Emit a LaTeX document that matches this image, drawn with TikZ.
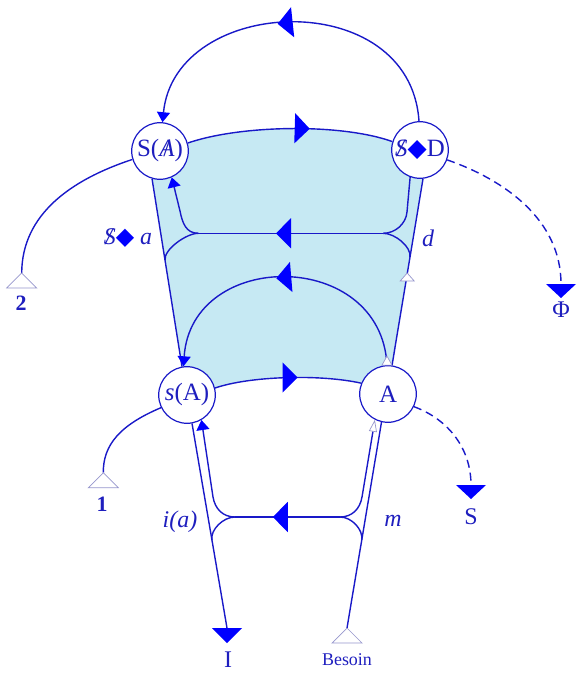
\documentclass[tikz,border=0pt]{standalone}
\usepackage{fontspec}
\setmainfont{Liberation Serif}
\newfontfamily\symfont{DejaVu Sans}
\usetikzlibrary{arrows.meta,decorations.markings,backgrounds}
\definecolor{lineblue}{RGB}{25,25,200}
\definecolor{arrowblue}{RGB}{0,0,255}
\definecolor{textblue}{RGB}{30,30,190}
\definecolor{fillblue}{RGB}{198,233,243}
\definecolor{hollowgray}{RGB}{150,150,205}
\newcommand{\barS}{\ooalign{\textit{S}\cr\hidewidth\textit{/}\hidewidth\cr}}
\newcommand{\barA}{\ooalign{\textit{A}\cr\hidewidth/\hidewidth\cr}}
\newcommand{\dmd}{{\symfont\color{arrowblue}◆}}
\begin{document}
\begin{tikzpicture}[x=1bp,y=-1bp,
  every node/.style={text=textblue},
  circ/.style={circle, draw=lineblue, line width=1.2bp, fill=white, minimum size=56.6bp, inner sep=0pt, font=\fontsize{25}{28}\selectfont},
  ln/.style={draw=lineblue, line width=1.4bp},
  dsh/.style={ln, dash pattern=on 8bp off 5bp},
  endarr/.style={-{Triangle[length=10bp,width=13bp,color=arrowblue]}},
  midarr/.style={postaction={decorate}, decoration={markings, mark=at position #1 with {\arrow{Triangle[length=15bp,width=30bp,color=arrowblue]}}}},
  hollow/.style={draw=hollowgray, fill=white, line width=0.7bp},
  solidtri/.style={fill=arrowblue},
  lab/.style={font=\fontsize{24}{28}\selectfont},
  numlab/.style={font=\fontsize{22}{26}\selectfont\bfseries},
]
\useasboundingbox (0,0) rectangle (583,682);

% main nodes
\node[circ] (SA) at (160,151) {S(\barA)};
\node[circ] (SD) at (420,150) {\barS\dmd D};
\node[circ] (sA) at (187,395) {\textit{s}(A)};
\node[circ] (A) at (388,394) {A};

% shaded region
\begin{scope}[on background layer]
\fill[fillblue] (SA.254) -- (sA.100) -- (sA.14) .. controls (250,376) and (320,374) .. (A.158) -- (A.82) -- (SD.276) -- (SD.163.5) .. controls (340,123) and (240,125) .. (SA.16) -- cycle;
\end{scope}

% boundaries
\draw[ln, midarr=0.595] (SA.16) .. controls (240,125) and (340,123) .. (SD.163.5);
\draw[ln, midarr=0.566] (sA.14) .. controls (250,376) and (320,374) .. (A.158);
\draw[ln] (SA.254) -- (sA.100);
\draw[ln] (A.82) -- (SD.276);

% top big arc
\draw[ln, endarr, midarr=0.54] (SD.92) .. controls (410,-15) and (175,-5) .. (SA.85);

% inner arc
\draw[ln, endarr, midarr=0.53] (A.92) .. controls (381,248.5) and (191.5,248.5) .. (sA.97);
\draw[hollow] (A.92) ++(-5,0) -- ++(10,0) -- ++(-5,-9) -- cycle;

% upper horizontal structure
\coordinate (HRu) at (383.3,233.3);
\coordinate (HLu) at (198.3,233.3);
\draw[ln, midarr=0.58] (HRu) -- (HLu);
\draw[ln, endarr] (HLu) .. controls (186,233.3) and (182.4,223) .. (180,211) -- (SA.294);
\draw[ln] (HLu) .. controls (186,233.3) and (163.5,250) .. (165.1,260);
\draw[ln] (HRu) .. controls (395,233.3) and (406,224) .. (407,212) -- (SD.250);
\draw[ln] (HRu) .. controls (395,233.3) and (411.6,247) .. (409.9,257);
\coordinate (Td) at (407.2,273);
\draw[hollow] (Td) -- ++(-7,8) -- ++(14,0) -- cycle;

% lower horizontal structure
\coordinate (HRl) at (340,517);
\coordinate (HLl) at (235,517);
\coordinate (Ib) at (227,628);
\coordinate (Bapex) at (347,628);
\draw[ln, midarr=0.64] (HRl) -- (HLl);
\draw[ln] (sA.280) -- (Ib);
\draw[ln] (HLl) .. controls (223,517) and (210.2,530) .. (211.9,540);
\draw[ln, endarr] (HLl) .. controls (223,517) and (215,509) .. (213,497) -- (sA.300);
\draw[ln] (Bapex) -- (A.257);
\draw[ln] (HRl) .. controls (352,517) and (363.4,530) .. (361.7,540);
\draw[ln, -{Triangle[open,length=12bp,width=8bp,color=hollowgray,fill=white,line width=0.7bp]}] (HRl) .. controls (352,517) and (360,509) .. (362,497) -- (A.243);

% I
\fill[solidtri] (Ib) ++(-15,0) -- ++(30,0) -- ++(-15,15) -- cycle;
\node[lab] (Ilab) at (228,660) {I};

% Besoin
\draw[hollow] (Bapex) -- ++(-15,15) -- ++(30,0) -- cycle;
\node[font=\fontsize{18}{21}\selectfont] (Blab) at (347,660) {Besoin};

% S dashed
\coordinate (Sb) at (471,485);
\draw[dsh] (A.-26) .. controls (450,420) and (471,450) .. (Sb);
\fill[solidtri] (Sb) ++(-15,0) -- ++(30,0) -- ++(-15,14) -- cycle;
\node[lab] (Slab) at (471,517) {S};

% Phi dashed
\coordinate (Pb) at (561,284);
\draw[dsh] (SD.-20) .. controls (505,180) and (561,220) .. (Pb);
\fill[solidtri] (Pb) ++(-15,0) -- ++(30,0) -- ++(-15,14) -- cycle;
\node[lab] (Plab) at (561,310) {Φ};

% 2
\coordinate (T2) at (21.7,273);
\draw[ln] (SA.197) .. controls (70,180) and (22,215) .. (T2);
\draw[hollow] (T2) -- ++(-15,15) -- ++(30,0) -- cycle;
\node[numlab] (L2) at (21,303) {2};

% 1
\coordinate (T1) at (103.3,472.7);
\draw[ln] (sA.206) .. controls (120,425) and (103,445) .. (T1);
\draw[hollow] (T1) -- ++(-15,15) -- ++(30,0) -- cycle;
\node[numlab] (L1) at (102,504) {1};

% labels
\node[lab] (lsa) at (128,238) {\barS\dmd\ \textit{a}};
\node[lab] (ld) at (428,238) {\textit{d}};
\node[lab] (lia) at (180,522) {\textit{i(a)}};
\node[lab] (lm) at (393,521) {\textit{m}};
\end{tikzpicture}
\end{document}
